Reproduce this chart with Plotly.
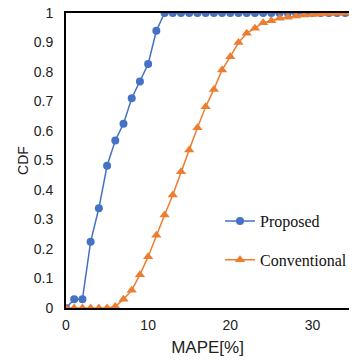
import plotly.graph_objects as go

mape = list(range(0, 35))
proposed = [0, 0.03, 0.03, 0.225, 0.338, 0.482, 0.568, 0.625, 0.711, 0.768, 0.827, 0.94] + [1.0] * 23
conventional = [0, 0, 0, 0, 0, 0, 0.005, 0.03, 0.06, 0.113, 0.174, 0.247, 0.315, 0.383,
                0.462, 0.536, 0.611, 0.682, 0.741, 0.807, 0.852, 0.9, 0.931, 0.948, 0.967,
                0.974, 0.982, 0.986, 0.99, 0.993, 0.995, 0.997, 0.998, 0.999, 1.0]
y_ticks = [0, 0.1, 0.2, 0.3, 0.4, 0.5, 0.6, 0.7, 0.8, 0.9, 1]
y_labels = ["0", "0.1", "0.2", "0.3", "0.4", "0.5", "0.6", "0.7", "0.8", "0.9", "1"]
x_ticks = [0, 10, 20, 30]

fig = go.Figure()
fig.add_trace(go.Scatter(x=mape, y=proposed, mode="lines+markers", name="Proposed",
                         legendgroup="a",
                         line=dict(color="#4472C4", width=1.5),
                         marker=dict(symbol="circle", size=8, color="#4472C4")))
fig.add_trace(go.Scatter(x=mape, y=conventional, mode="lines+markers", name="Conventional",
                         legendgroup="b",
                         line=dict(color="#ED7D31", width=1.5),
                         marker=dict(symbol="triangle-up", size=9, color="#ED7D31")))

fig.update_layout(
    width=352, height=362,
    margin=dict(l=66, r=0, t=13, b=54),
    paper_bgcolor="white", plot_bgcolor="white",
    font=dict(family="Liberation Sans, Arial, sans-serif", size=13, color="#222"),
    showlegend=True,
    legend=dict(x=0.545, y=0.352, xanchor="left", yanchor="top",
                font=dict(family="Liberation Serif, Times New Roman, serif", size=16, color="#111"),
                bgcolor="rgba(0,0,0,0)", tracegroupgap=15, itemwidth=30, borderwidth=0),
    xaxis=dict(range=[0, 34.45], tickvals=x_ticks, showgrid=False, zeroline=False,
               showline=True, linecolor="black", linewidth=2, mirror=True,
               ticks="", tickfont=dict(size=14), ticklabelstandoff=3,
               title=dict(text="MAPE[%]", font=dict(size=17), standoff=9)),
    yaxis=dict(range=[0, 1.0], tickvals=y_ticks, ticktext=y_labels, showgrid=False,
               zeroline=False, showline=True, linecolor="black", linewidth=2,
               ticks="", tickfont=dict(size=14), ticklabelstandoff=8,
               title=dict(text="CDF", font=dict(size=14), standoff=2)),
)
post = ("document.body.style.margin='0';document.body.style.overflow='hidden';"
        "var gd=document.getElementById('{plot_id}');"
        "Plotly.relayout(gd,{width:352,height:362});")
fig.write_html("out.html", post_script=post,
               config={"responsive": False, "displayModeBar": False})
